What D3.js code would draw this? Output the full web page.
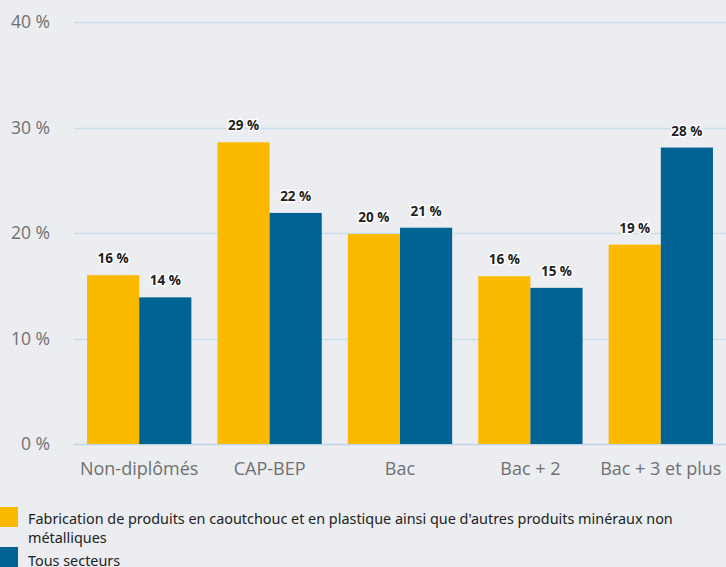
<!DOCTYPE html>
<html>
<head>
<meta charset="utf-8">
<script src="https://cdn.jsdelivr.net/npm/d3@7"></script>
<style>
  body { margin: 0; background: #ebedf0; }
  svg { display: block; }
</style>
</head>
<body>
<div id="chart"></div>
<script>
const categories = ['Non-diplômés', 'CAP-BEP', 'Bac', 'Bac + 2', 'Bac + 3 et plus'];
const secteurValues = [16.0, 28.6, 19.9, 15.9, 18.9];
const secteurLabels = ['16 %', '29 %', '20 %', '16 %', '19 %'];
const tousValues = [13.9, 21.9, 20.5, 14.8, 28.1];
const tousLabels = ['14 %', '22 %', '21 %', '15 %', '28 %'];
const yTicks = [0, 10, 20, 30, 40];
const seriesNames = [
  "Fabrication de produits en caoutchouc et en plastique ainsi que d'autres produits minéraux non",
  'métalliques',
  'Tous secteurs'
];

const width = 726, height = 567;
const margin = {top: 22, left: 74, right: 0, bottom: 123};
const colors = ['#fbba00', '#006393'];

const svg = d3.select('#chart').append('svg')
  .attr('width', width)
  .attr('height', height)
  .style('background', '#ebedf0');

const scaleX = d3.scaleBand()
  .domain(categories)
  .range([margin.left, width - margin.right])
  .paddingInner(0.2)
  .paddingOuter(0.1);

const scaleY = d3.scaleLinear()
  .domain([0, 40])
  .range([height - margin.bottom, margin.top]);

const sub = d3.scaleBand()
  .domain([0, 1])
  .range([0, scaleX.bandwidth()]);

// grid
svg.append('g')
  .selectAll('line')
  .data(yTicks)
  .enter().append('line')
  .attr('x1', margin.left)
  .attr('x2', width)
  .attr('y1', d => Math.round(scaleY(d)) + 0.5)
  .attr('y2', d => Math.round(scaleY(d)) + 0.5)
  .attr('stroke', d => d === 0 ? '#c3d3e6' : '#c8e0ea')
  .attr('stroke-width', 1.5);

// y labels
svg.append('g')
  .selectAll('text')
  .data(yTicks)
  .enter().append('text')
  .attr('x', 50)
  .attr('y', d => scaleY(d) + 6)
  .attr('text-anchor', 'end')
  .style('font', '17.5px "Open Sans", sans-serif')
  .style('fill', '#707070')
  .text(d => d + ' %');

// x labels
svg.append('g')
  .selectAll('text')
  .data(categories)
  .enter().append('text')
  .attr('x', d => scaleX(d) + scaleX.bandwidth() / 2)
  .attr('y', scaleY(0) + 31)
  .attr('text-anchor', 'middle')
  .style('font', '18px "Open Sans", sans-serif')
  .style('fill', '#707070')
  .text(d => d);

const series = [
  {values: secteurValues, labels: secteurLabels},
  {values: tousValues, labels: tousLabels}
];

series.forEach((s, si) => {
  const g = svg.append('g');
  g.selectAll('rect')
    .data(s.values)
    .enter().append('rect')
    .attr('x', (d, i) => scaleX(categories[i]) + sub(si))
    .attr('width', sub.bandwidth())
    .attr('y', d => scaleY(d))
    .attr('height', d => scaleY(0) - scaleY(d))
    .attr('fill', colors[si]);

  g.selectAll('text')
    .data(s.values)
    .enter().append('text')
    .attr('x', (d, i) => scaleX(categories[i]) + sub(si) + sub.bandwidth() / 2)
    .attr('y', d => scaleY(d) - 12)
    .attr('text-anchor', 'middle')
    .style('font', 'bold 13.5px "Open Sans", sans-serif')
    .style('fill', '#222')
    .style('paint-order', 'stroke')
    .style('stroke', '#fff')
    .style('stroke-width', 3)
    .style('stroke-linejoin', 'round')
    .text((d, i) => s.labels[i]);
});

// legend
const legend = svg.append('g');
legend.append('rect')
  .attr('x', 0).attr('y', 507).attr('width', 18).attr('height', 20)
  .attr('fill', colors[0]);
legend.append('rect')
  .attr('x', 0).attr('y', 547).attr('width', 18).attr('height', 20)
  .attr('fill', colors[1]);

legend.selectAll('text')
  .data(seriesNames)
  .enter().append('text')
  .attr('x', 28)
  .attr('y', (d, i) => [524, 543, 566][i])
  .style('font', '14.4px "Noto Sans", sans-serif')
  .style('fill', '#222')
  .text(d => d);
</script>
</body>
</html>
